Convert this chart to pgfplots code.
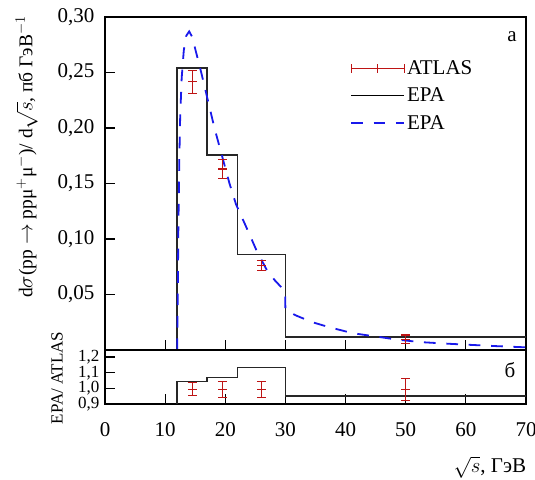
\documentclass[border=0pt]{standalone}
\usepackage{fontspec}
\setmainfont{Liberation Serif}
\usepackage{pgfplots}
\pgfplotsset{compat=1.18}
\definecolor{atl}{RGB}{190,20,20}
\definecolor{epa}{RGB}{25,25,235}
\newcommand{\bigf}{\fontsize{21}{24}\selectfont}
\newcommand{\labf}{\fontsize{19.5}{22}\selectfont}
\newcommand{\smf}{\fontsize{17}{20}\selectfont}
\pgfplotsset{
  panel/.style={scale only axis, width=421pt, xmin=0, xmax=70,
    axis line style={line width=1.3pt}, tick align=inside,
    xtick pos=left, ytick pos=left,
    major tick length=10pt, tick style={line width=1.2pt, black},
    /pgf/number format/assume math mode=true,
    /pgf/number format/use comma, /pgf/number format/fixed,
    /pgf/number format/fixed zerofill},
  hist/.style={const plot, line width=1.6pt, black!85, forget plot},
  atlas/.style={color=atl, only marks, mark=-, mark size=4.5pt, forget plot,
    mark options={line width=1.2pt, atl},
    error bars/.cd, y dir=both, y explicit,
    error bar style={line width=1.2pt, atl},
    error mark=|, error mark options={line width=1.2pt, mark size=4.5pt, atl}},
}
\begin{document}
\begin{tikzpicture}[x=1pt,y=1pt]
\useasboundingbox (0,0) rectangle (535,479);
\begin{axis}[panel, at={(105pt,129pt)}, anchor=south west, height=333pt,
  ymin=0, ymax=0.30,
  xtick={10,20,30,40,50,60}, xticklabels={},
  ytick={0.05,0.10,0.15,0.20,0.25,0.30},
  /pgf/number format/precision=2,
  yticklabel style={font=\bigf, xshift=-7pt},
  ylabel={d$\sigma$(pp $\rightarrow$ ppμ$^{+}$μ$^{-}$)/ d$\sqrt{s}$, пб ГэВ$^{-1}$},
  ylabel style={font=\labf, inner sep=0pt, at={(axis description cs:-0.186,0.58)}, anchor=center},
  legend style={at={(axis description cs:0.582,0.882)}, anchor=north west,
    draw=none, fill=none, font=\bigf, inner xsep=0pt, row sep=8pt},
  legend cell align=left]
\addlegendimage{legend image code/.code={
  \draw[atl,line width=1.2pt] (0pt,0pt)--(53pt,0pt);
  \draw[atl,line width=1.2pt] (0pt,-4.5pt)--(0pt,4.5pt) (26.5pt,-4.5pt)--(26.5pt,4.5pt) (53pt,-4.5pt)--(53pt,4.5pt);}}
\addlegendentry{ATLAS}
\addlegendimage{legend image code/.code={\draw[black,line width=1.6pt] (0pt,0pt)--(53pt,0pt);}}
\addlegendentry{EPA}
\addlegendimage{legend image code/.code={\draw[epa,line width=1.8pt,dash pattern=on 11.7pt off 10.7pt] (0pt,0pt)--(53pt,0pt);}}
\addlegendentry{EPA}
% EPA histogram
\addplot[hist] coordinates {(12,0) (12,0.254) (17,0.1755) (22,0.086) (30,0.0115) (70,0.0115)};
% EPA curve
\addplot[epa, line width=1.8pt, dash pattern=on 11.7pt off 10.7pt, forget plot] coordinates {
(12.0,0.0) (12.1,0.05) (12.2,0.11) (12.35,0.17) (12.5,0.21) (12.75,0.245)
(13.1,0.27) (13.5,0.283) (14.0,0.287) (14.5,0.282) (15.2,0.267) (16.0,0.250)
(17.1,0.225) (18.2,0.200) (19.35,0.177) (20.7,0.150) (21.8,0.131) (23.5,0.1106)
(25.2,0.0896) (26.8,0.0731) (28.2,0.063) (29.3,0.0566) (29.95,0.052) (30.0,0.036)
(31.8,0.031) (34.5,0.025) (37.3,0.0205) (41.2,0.0151) (45,0.0122) (48.4,0.0095)
(52.2,0.0072) (57.2,0.0056) (60.5,0.0047) (65,0.0035) (70,0.0024)};
% ATLAS data
\addplot[atlas] coordinates {
(14.5,0.2416) +- (0,0.0105)
(19.5,0.163) +- (0,0.0085)
(26.0,0.0761) +- (0,0.0045)
(50.0,0.0095) +- (0,0.004)};
\node[font=\bigf] at (axis description cs:0.967,0.94) {а};
\end{axis}
\begin{axis}[panel, at={(105pt,75pt)}, anchor=south west, height=54pt,
  ymin=0.9, ymax=1.245,
  xtick={0,10,20,30,40,50,60,70},
  xticklabels={0,10,20,30,40,50,60,70},
  ytick={0.9,1.0,1.1,1.2},
  /pgf/number format/precision=1,
  xticklabel style={font=\bigf, yshift=-15pt},
  yticklabel style={font=\smf, xshift=-2pt},
  ylabel={EPA/ ATLAS},
  ylabel style={font=\smf, at={(axis description cs:-0.114,0.48)}, anchor=center},
  xlabel={$\sqrt{s}$, ГэВ},
  xlabel style={font=\bigf, inner sep=0pt, at={(axis description cs:0.914,-1.17)}, anchor=center}]
\addplot[hist] coordinates {(12,0.9) (12,1.043) (17,1.069) (22,1.133) (30,0.953) (70,0.953)};
\addplot[atlas] coordinates {
(14.5,0.994) +- (0,0.041)
(19.5,0.992) +- (0,0.053)
(26.0,0.994) +- (0,0.05)
(50.0,0.993) +- (0,0.072)};
\node[font=\bigf] at (axis description cs:0.962,0.63) {б};
\end{axis}
\end{tikzpicture}
\end{document}
